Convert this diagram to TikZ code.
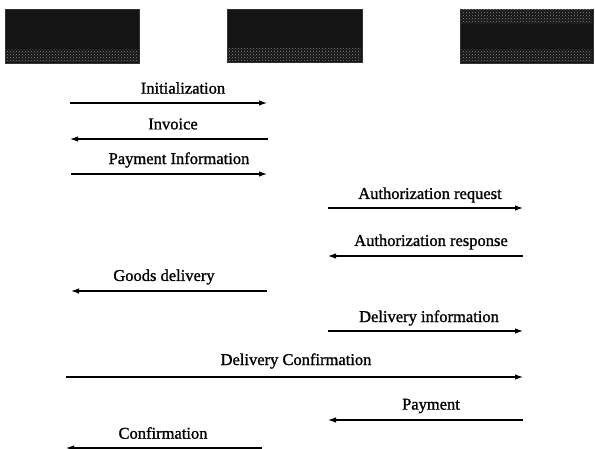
\documentclass[tikz,border=0pt]{standalone}
\usepackage{fontspec}
\setmainfont{Liberation Serif}
\newfontfamily\inkfont{Liberation Serif}[FakeBold=1.2]
\usetikzlibrary{arrows.meta,patterns}
\begin{document}
\begin{tikzpicture}[x=1pt,y=-1pt,
  party/.style={draw=black!80,fill=black!92,line width=0.8pt},
  texture/.style={pattern=crosshatch dots,pattern color=black!45},
  msg/.style={line width=1.1pt,-{Latex[length=8pt,width=5.5pt]}},
  lbl/.style={font=\inkfont\fontsize{16.5}{18}\selectfont,inner sep=0pt,anchor=center}]
\useasboundingbox (0,0) rectangle (595,449);
% parties
\path[party] (5,9) rectangle (139,63);
\path[texture] (6,50) rectangle (138,62);
\path[party] (227,9) rectangle (362,62);
\path[texture] (228,49) rectangle (361,61);
\path[party] (460,9) rectangle (593,63);
\path[texture] (461,10) rectangle (592,24);
\path[texture] (461,50) rectangle (592,62);
% endpoints
\coordinate (l1) at (70,103);  \coordinate (r1) at (267,103);
\coordinate (l2) at (70,139);  \coordinate (r2) at (268,139);
\coordinate (l3) at (71,174);  \coordinate (r3) at (267,174);
\coordinate (l4) at (328,208); \coordinate (r4) at (523,208);
\coordinate (l5) at (328,256); \coordinate (r5) at (523,256);
\coordinate (l6) at (71,291);  \coordinate (r6) at (267,291);
\coordinate (l7) at (328,331); \coordinate (r7) at (523,331);
\coordinate (l8) at (66,377);  \coordinate (r8) at (523,377);
\coordinate (l9) at (328,420); \coordinate (r9) at (523,420);
\coordinate (l10) at (66,448); \coordinate (r10) at (262,448);
% labels
\node[lbl] (t1) at (183,88) {Initialization};
\node[lbl] (t2) at (173,124) {Invoice};
\node[lbl] (t3) at (179,160) {Payment Information};
\node[lbl] (t4) at (430,195) {Authorization request};
\node[lbl] (t5) at (431,242) {Authorization response};
\node[lbl] (t6) at (164,277) {Goods delivery};
\node[lbl] (t7) at (429,318) {Delivery information};
\node[lbl] (t8) at (296,361) {Delivery Confirmation};
\node[lbl] (t9) at (431,406) {Payment};
\node[lbl] (t10) at (163,433) {Confirmation};
% messages
\draw[msg] (l1) -- (r1);
\draw[msg] (r2) -- (l2);
\draw[msg] (l3) -- (r3);
\draw[msg] (l4) -- (r4);
\draw[msg] (r5) -- (l5);
\draw[msg] (r6) -- (l6);
\draw[msg] (l7) -- (r7);
\draw[msg] (l8) -- (r8);
\draw[msg] (r9) -- (l9);
\draw[msg] (r10) -- (l10);
\end{tikzpicture}
\end{document}
